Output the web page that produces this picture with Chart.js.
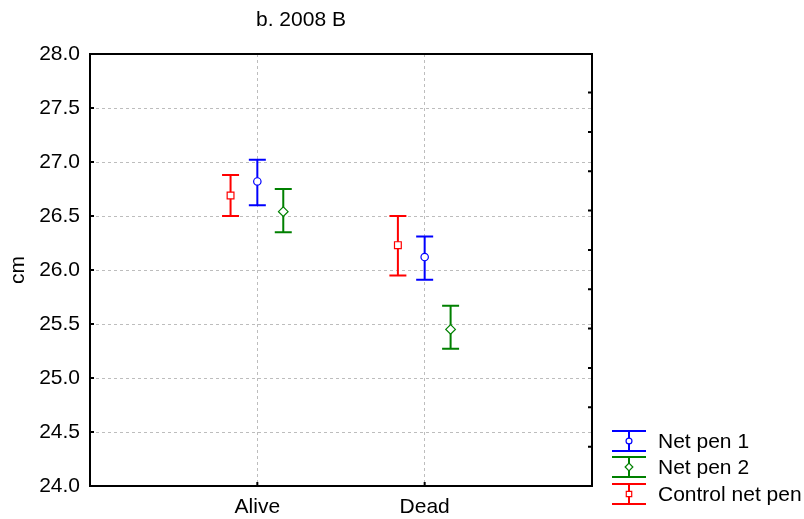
<!DOCTYPE html>
<html>
<head>
<meta charset="utf-8">
<script src="https://cdn.jsdelivr.net/npm/chart.js@4/dist/chart.umd.min.js"></script>
<style>
  html, body { margin: 0; padding: 0; background: #fff; }
</style>
</head>
<body>
<canvas id="chart" width="804" height="519"></canvas>
<script>
// Chart data
const categories = ["Alive", "Dead"];
const seriesNames = ["Net pen 1", "Net pen 2", "Control net pen"];

const netPen1Mean = [26.82, 26.12];
const netPen1Upper = [27.02, 26.31];
const netPen1Lower = [26.60, 25.91];

const netPen2Mean = [26.54, 25.45];
const netPen2Upper = [26.75, 25.67];
const netPen2Lower = [26.35, 25.27];

const controlMean = [26.69, 26.23];
const controlUpper = [26.88, 26.50];
const controlLower = [26.50, 25.95];

const yTicks = [24.0, 24.5, 25.0, 25.5, 26.0, 26.5, 27.0, 27.5, 28.0];

const FONT = "'Liberation Sans', Arial, sans-serif";
const FONT_SIZE = 21;

// Build one scatter dataset per series
function makeSeries(label, means, upper, lower, color, style, radius, shift) {
    return {
        label: label,
        data: means.map((m, i) => ({ x: i + 1 + shift, y: m, hi: upper[i], lo: lower[i] })),
        borderColor: color,
        backgroundColor: "#ffffff",
        pointStyle: style,
        pointRadius: radius,
        pointBorderWidth: 1.2,
        showLine: false,
    };
}

const datasets = [
    makeSeries(seriesNames[0], netPen1Mean, netPen1Upper, netPen1Lower, "#0000ff", "circle", 3.7, 0),
    makeSeries(seriesNames[1], netPen2Mean, netPen2Upper, netPen2Lower, "#008000", "rectRot", 4.8, 0.155),
    makeSeries(seriesNames[2], controlMean, controlUpper, controlLower, "#ff0000", "rect", 4.8, -0.16),
];

// Error bars, frame, inner ticks, title and legend
const decorPlugin = {
    id: "decor",
    beforeDatasetsDraw(chart) {
        const ctx = chart.ctx;
        const y = chart.scales.y;
        ctx.save();
        ctx.lineWidth = 2;
        chart.data.datasets.forEach((ds, di) => {
            const meta = chart.getDatasetMeta(di);
            ds.data.forEach((p, i) => {
                const px = meta.data[i].x;
                const top = y.getPixelForValue(p.hi);
                const bot = y.getPixelForValue(p.lo);
                ctx.strokeStyle = ds.borderColor;
                ctx.beginPath();
                ctx.moveTo(px, top);
                ctx.lineTo(px, bot);
                ctx.moveTo(px - 8.5, top);
                ctx.lineTo(px + 8.5, top);
                ctx.moveTo(px - 8.5, bot);
                ctx.lineTo(px + 8.5, bot);
                ctx.stroke();
            });
        });
        ctx.restore();
    },
    afterDraw(chart) {
        const ctx = chart.ctx;
        const area = chart.chartArea;
        const x = chart.scales.x;
        const y = chart.scales.y;
        const y2 = chart.scales.y2;
        ctx.save();

        // frame
        ctx.strokeStyle = "#000";
        ctx.lineWidth = 2;
        ctx.strokeRect(area.left, area.top, area.right - area.left, area.bottom - area.top);

        // inner ticks
        ctx.beginPath();
        yTicks.forEach((v) => {
            const py = y.getPixelForValue(v);
            ctx.moveTo(area.left, py);
            ctx.lineTo(area.left + 4, py);
        });
        categories.forEach((c, i) => {
            const px = x.getPixelForValue(i + 1);
            ctx.moveTo(px, area.bottom);
            ctx.lineTo(px, area.bottom - 4);
        });
        for (let v = 1; v <= 10; v++) {
            const py = y2.getPixelForValue(v);
            ctx.moveTo(area.right, py);
            ctx.lineTo(area.right - 4, py);
        }
        ctx.stroke();

        // title
        ctx.fillStyle = "#000";
        ctx.font = FONT_SIZE + "px " + FONT;
        ctx.textAlign = "left";
        ctx.textBaseline = "middle";
        ctx.fillText("b. 2008 B", 256, 20);

        // y axis title
        ctx.save();
        ctx.translate(18, 270);
        ctx.rotate(-Math.PI / 2);
        ctx.textAlign = "center";
        ctx.fillText("cm", 0, 0);
        ctx.restore();

        // legend
        const rows = [441, 467, 494];
        chart.data.datasets.forEach((ds, di) => {
            const cy = rows[di];
            const cx = 629;
            ctx.strokeStyle = ds.borderColor;
            ctx.lineWidth = 2;
            ctx.beginPath();
            ctx.moveTo(cx, cy - 10);
            ctx.lineTo(cx, cy + 10);
            ctx.moveTo(cx - 17, cy - 10);
            ctx.lineTo(cx + 17, cy - 10);
            ctx.moveTo(cx - 17, cy + 10);
            ctx.lineTo(cx + 17, cy + 10);
            ctx.stroke();
            ctx.fillStyle = "#fff";
            ctx.lineWidth = 1.2;
            Chart.helpers.drawPoint(ctx, {
                pointStyle: ds.pointStyle,
                radius: ds.pointRadius * 0.8,
                rotation: 0,
                borderWidth: 1.2,
            }, cx, cy);
            ctx.fillStyle = "#000";
            ctx.textAlign = "left";
            ctx.textBaseline = "middle";
            ctx.font = FONT_SIZE + "px " + FONT;
            ctx.fillText(ds.label, 658, cy + 1);
        });

        ctx.restore();
    },
};

new Chart(document.getElementById("chart"), {
    type: "scatter",
    data: { datasets: datasets },
    options: {
        responsive: false,
        animation: false,
        layout: { padding: { top: 54, right: 212, left: 0, bottom: 0 } },
        plugins: {
            legend: { display: false },
            tooltip: { enabled: false },
        },
        scales: {
            x: {
                type: "linear",
                position: "bottom",
                min: 0,
                max: 3,
                afterBuildTicks: (scale) => {
                    scale.ticks = categories.map((c, i) => ({ value: i + 1 }));
                },
                ticks: {
                    color: "#000",
                    font: { family: FONT, size: FONT_SIZE },
                    padding: 9,
                    maxRotation: 0,
                    callback: (v) => categories[v - 1] || "",
                },
                grid: {
                    color: "#bdbdbd",
                    lineWidth: 1,
                    drawTicks: false,
                },
                border: { display: false, dash: [3, 3] },
                afterFit: (scale) => { scale.height = 33; },
            },
            y: {
                min: 24,
                max: 28,
                afterBuildTicks: (scale) => {
                    scale.ticks = yTicks.map((v) => ({ value: v }));
                },
                ticks: {
                    color: "#000",
                    font: { family: FONT, size: FONT_SIZE },
                    padding: 10,
                    callback: (v) => v.toFixed(1),
                },
                grid: {
                    color: "#bdbdbd",
                    lineWidth: 1,
                    drawTicks: false,
                },
                border: { display: false, dash: [3, 3] },
                afterFit: (scale) => { scale.width = 90; },
            },
            y2: {
                display: false,
                position: "right",
                min: 0,
                max: 10.98,
            },
        },
    },
    plugins: [decorPlugin],
});
</script>
</body>
</html>
